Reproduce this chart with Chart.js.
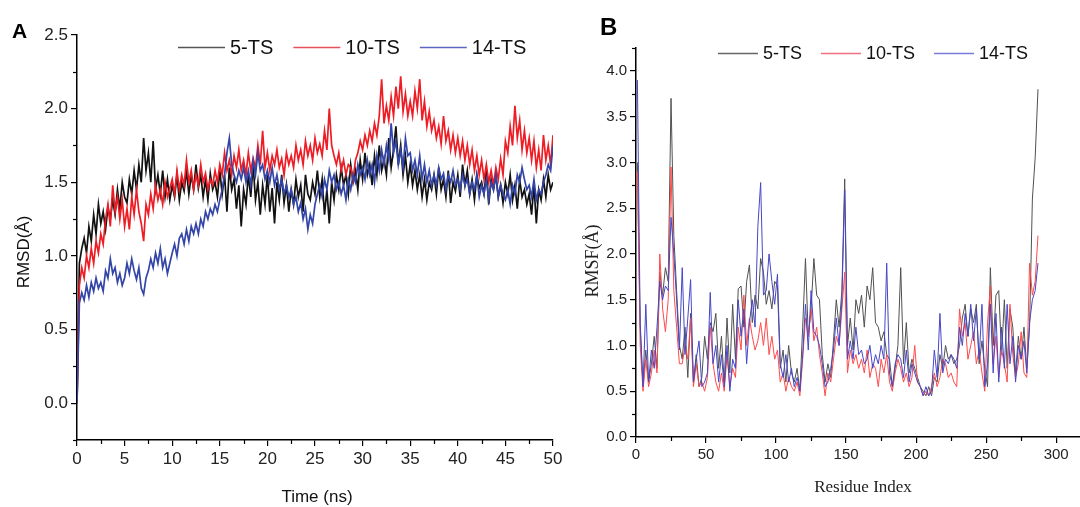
<!DOCTYPE html>
<html><head><meta charset="utf-8">
<script src="https://cdn.jsdelivr.net/npm/chart.js@4.4.0/dist/chart.umd.min.js"></script>
<style>
html,body{margin:0;padding:0;background:#fff;width:1080px;height:507px;overflow:hidden}
#a{position:absolute;left:0;top:0}
#b{position:absolute;left:560px;top:0}
</style></head><body>
<canvas id="a" width="580" height="507"></canvas>
<canvas id="b" width="520" height="507"></canvas>
<script>
// ---------- Panel A: RMSD vs time ----------
const seriesNames = ['5-TS', '10-TS', '14-TS'];
const rmsdTimeStepNs = 0.25;
const rmsd5TS = [
0.00,0.95,1.05,1.12,1.02,1.20,1.10,1.28,1.15,1.35,
1.22,1.30,1.18,1.33,1.25,1.38,1.28,1.45,1.32,1.50,
1.40,1.36,1.52,1.42,1.58,1.45,1.62,1.50,1.80,1.58,
1.70,1.50,1.78,1.45,1.55,1.42,1.58,1.40,1.52,1.38,
1.48,1.40,1.55,1.38,1.50,1.44,1.58,1.42,1.55,1.45,
1.62,1.46,1.55,1.40,1.52,1.38,1.56,1.45,1.50,1.40,
1.58,1.42,1.55,1.30,1.60,1.45,1.52,1.32,1.48,1.20,
1.45,1.35,1.55,1.40,1.62,1.38,1.50,1.28,1.48,1.35,
1.55,1.30,1.46,1.22,1.50,1.38,1.55,1.36,1.48,1.30,
1.45,1.35,1.52,1.40,1.48,1.30,1.55,1.42,1.38,1.50,
1.42,1.58,1.40,1.52,1.28,1.45,1.22,1.50,1.38,1.55,
1.45,1.60,1.48,1.55,1.42,1.62,1.50,1.58,1.45,1.65,
1.52,1.70,1.55,1.62,1.48,1.68,1.55,1.75,1.58,1.66,
1.55,1.80,1.60,1.72,1.88,1.62,1.75,1.55,1.68,1.50,
1.62,1.48,1.58,1.45,1.55,1.40,1.52,1.38,1.50,1.45,
1.55,1.42,1.60,1.45,1.52,1.40,1.58,1.36,1.50,1.44,
1.55,1.40,1.62,1.48,1.58,1.42,1.52,1.38,1.55,1.46,
1.50,1.42,1.58,1.35,1.52,1.45,1.55,1.40,1.48,1.36,
1.50,1.42,1.55,1.38,1.48,1.32,1.52,1.40,1.45,1.35,
1.42,1.28,1.48,1.22,1.45,1.38,1.52,1.40,1.55,1.45,
1.50];
const rmsd10TS = [
0.00,0.80,0.92,0.85,1.00,0.92,1.05,0.95,1.10,1.02,
1.15,1.08,1.25,1.35,1.20,1.48,1.30,1.40,1.25,1.38,
1.20,1.32,1.18,1.40,1.28,1.45,1.30,1.22,1.10,1.35,
1.28,1.42,1.32,1.48,1.38,1.45,1.35,1.50,1.40,1.46,
1.52,1.42,1.58,1.45,1.55,1.48,1.65,1.50,1.58,1.45,
1.55,1.48,1.62,1.50,1.56,1.45,1.52,1.48,1.58,1.50,
1.62,1.55,1.70,1.58,1.65,1.55,1.68,1.60,1.72,1.58,
1.65,1.55,1.70,1.58,1.66,1.60,1.75,1.62,1.85,1.60,
1.70,1.58,1.68,1.62,1.72,1.60,1.66,1.55,1.70,1.62,
1.68,1.60,1.75,1.65,1.72,1.62,1.78,1.68,1.75,1.65,
1.80,1.70,1.76,1.68,1.85,1.72,2.00,1.75,1.68,1.62,
1.70,1.58,1.65,1.55,1.62,1.60,1.52,1.65,1.70,1.78,
1.72,1.82,1.75,1.85,1.78,1.90,1.82,1.95,2.20,1.90,
2.02,1.92,2.08,1.95,2.15,2.00,2.22,1.98,2.10,1.95,
2.05,1.95,2.12,2.00,2.20,1.92,2.05,1.88,1.98,1.85,
1.92,1.80,1.88,1.76,1.95,1.78,1.85,1.72,1.82,1.70,
1.80,1.68,1.78,1.65,1.75,1.62,1.72,1.58,1.68,1.55,
1.65,1.52,1.62,1.50,1.58,1.48,1.60,1.52,1.66,1.55,
1.78,1.70,1.88,1.75,2.02,1.80,1.92,1.72,1.85,1.70,
1.80,1.65,1.78,1.60,1.72,1.58,1.82,1.65,1.75,1.62,
1.82];
const rmsd14TS = [
0.00,0.68,0.75,0.70,0.80,0.72,0.82,0.76,0.85,0.78,
0.82,0.76,0.90,0.85,0.98,0.88,0.92,0.82,0.88,0.80,
0.85,0.95,0.88,0.98,0.90,0.84,0.92,0.78,0.74,0.85,
0.90,0.98,0.92,1.02,0.95,1.05,0.92,0.98,0.88,0.95,
1.02,1.08,1.00,1.12,1.15,1.08,1.18,1.10,1.20,1.15,
1.22,1.15,1.25,1.20,1.30,1.25,1.32,1.28,1.35,1.30,
1.38,1.45,1.55,1.70,1.80,1.62,1.55,1.50,1.58,1.52,
1.60,1.50,1.58,1.48,1.65,1.55,1.70,1.58,1.62,1.52,
1.58,1.50,1.60,1.48,1.55,1.45,1.52,1.42,1.48,1.40,
1.45,1.35,1.40,1.30,1.36,1.25,1.32,1.18,1.28,1.22,
1.35,1.42,1.48,1.40,1.52,1.45,1.58,1.50,1.55,1.45,
1.50,1.42,1.48,1.38,1.52,1.45,1.55,1.50,1.62,1.55,
1.60,1.52,1.65,1.55,1.62,1.50,1.68,1.58,1.72,1.62,
1.75,1.65,1.90,1.70,1.78,1.62,1.72,1.60,1.80,1.68,
1.70,1.58,1.65,1.55,1.68,1.52,1.62,1.50,1.58,1.48,
1.55,1.48,1.60,1.52,1.56,1.45,1.55,1.50,1.58,1.48,
1.52,1.45,1.55,1.48,1.52,1.42,1.50,1.45,1.55,1.40,
1.48,1.42,1.52,1.38,1.50,1.45,1.55,1.40,1.48,1.42,
1.38,1.45,1.35,1.48,1.42,1.55,1.50,1.60,1.52,1.45,
1.48,1.40,1.52,1.38,1.45,1.42,1.50,1.55,1.62,1.58,
1.75];
const rmsdTimeTicks = [0,5,10,15,20,25,30,35,40,45,50];
const rmsdValueTicks = [0,0.5,1.0,1.5,2.0,2.5];

// ---------- Panel B: RMSF vs residue ----------
const residueFirst = 1;
const residueStep = 2;
const rmsf5TS = [
3.00,1.20,0.55,0.95,0.60, 0.80,1.10,0.75,1.80,1.55,
1.85,1.70,3.70,2.20,1.60, 1.00,0.85,1.20,0.65,1.35,
0.60,0.90,0.55,0.65,1.10, 0.85,1.25,1.15,1.35,0.75,
1.10,0.60,1.30,0.70,1.45, 0.85,1.62,1.65,1.20,1.70,
1.88,1.25,1.55,1.40,1.95, 1.80,1.45,1.60,1.40,1.70,
1.65,0.75,0.95,0.60,1.00, 0.70,0.60,0.75,0.50,1.20,
1.95,1.10,1.40,1.95,1.55, 1.50,0.90,0.60,0.80,0.65,
1.05,1.50,1.20,1.60,2.82, 1.00,1.30,0.95,1.50,1.35,
1.55,1.20,1.65,1.50,1.85, 1.25,1.20,1.05,1.15,0.90,
0.85,0.55,0.75,1.00,1.85, 0.80,1.25,0.70,0.85,0.75,
0.65,0.55,0.50,0.45,0.55, 0.45,0.65,0.60,0.90,0.75,
1.00,0.85,0.90,0.80,0.85, 1.00,1.30,1.45,1.10,1.40,
1.25,1.45,0.80,1.05,0.75, 0.55,1.85,1.00,1.55,1.60,
0.90,1.50,0.75,1.40,1.20, 0.70,1.10,0.85,1.20,0.75,
1.20,2.60,3.05,3.80];
const rmsf10TS = [
2.90,1.00,0.50,0.85,0.55, 0.70,0.95,0.70,2.00,1.40,
1.15,1.50,2.95,1.60,1.20, 0.80,0.80,1.00,0.85,1.30,
0.55,0.80,0.55,0.60,0.50, 0.65,1.20,0.80,0.60,0.50,
0.70,0.50,0.90,0.55,0.75, 0.65,1.20,0.95,1.55,1.00,
1.30,1.10,0.95,1.05,1.25, 1.00,1.30,0.90,1.10,0.85,
0.95,0.60,0.70,0.50,0.65, 0.55,0.50,0.60,0.45,0.85,
1.30,1.10,1.40,1.05,1.20, 0.90,0.70,0.45,0.70,0.60,
0.85,1.10,1.00,1.40,1.80, 0.70,0.95,0.80,0.90,0.75,
0.85,0.70,0.95,0.65,0.80, 0.75,0.55,0.85,0.70,0.90,
0.60,0.50,0.70,0.85,0.75, 0.60,0.70,0.55,0.65,1.00,
0.60,0.55,0.45,0.50,0.45, 0.55,0.70,0.55,0.65,0.85,
0.80,0.65,0.70,0.60,0.55, 1.40,1.10,1.25,0.85,1.00,
1.15,0.80,0.95,0.70,0.50, 1.25,1.65,0.80,1.10,0.65,
0.95,0.80,0.60,1.45,0.90, 0.65,0.80,1.15,0.70,0.65,
1.90,1.55,1.70,2.20];
const rmsf14TS = [
3.90,1.25,0.55,1.45,0.60, 0.95,0.75,1.20,1.70,1.50,
1.65,1.60,2.40,2.00,1.50, 0.95,1.85,0.90,1.30,1.72,
0.60,0.85,1.05,0.55,0.60, 0.70,1.58,0.80,1.00,0.60,
0.90,0.55,1.00,0.50,0.85, 0.75,1.50,1.10,1.40,0.80,
1.25,1.50,1.20,2.30,2.78, 1.55,1.60,2.00,1.70,1.45,
1.78,0.80,0.65,0.90,0.60, 0.75,0.55,0.65,0.50,0.90,
1.45,0.95,1.60,1.15,1.10, 1.00,0.80,0.55,0.60,0.75,
0.95,1.30,1.00,1.50,2.70, 0.85,1.05,0.85,1.20,0.90,
0.95,0.80,0.85,1.00,0.75, 0.90,0.80,1.00,0.85,1.90,
0.70,0.55,0.80,0.90,0.85, 0.65,0.95,0.60,0.80,0.70,
0.60,0.55,0.45,0.55,0.45, 0.50,0.95,0.65,1.35,0.70,
0.85,0.80,0.90,0.85,0.75, 1.20,1.00,1.35,1.10,1.45,
1.05,1.40,0.85,1.45,0.55, 0.80,1.45,0.70,1.35,0.60,
1.20,0.75,1.45,0.80,1.10, 0.60,1.00,0.85,1.05,0.70,
1.25,1.50,1.60,1.90];
const rmsfResidueTicks = [0,50,100,150,200,250,300];
const rmsfValueTicks = [0,0.5,1.0,1.5,2.0,2.5,3.0,3.5,4.0];

const titleA = {letter:'A', x:'Time (ns)', y:'RMSD(Å)'};
const titleB = {letter:'B', x:'Residue Index', y:'RMSF(Å)'};

// ---------- helpers ----------
const toXY = (arr, x0, dx) => arr.map((v, i) => ({x: x0 + i * dx, y: v}));

const minorTicks = {
  id: 'minorTicks',
  afterDraw(chart, args, o) {
    const ctx = chart.ctx;
    ctx.save();
    ctx.strokeStyle = '#000';
    ctx.lineWidth = o.width;
    ['x', 'y'].forEach(id => {
      const s = chart.scales[id];
      const t = s.ticks.map(k => k.value);
      const step = t[1] - t[0];
      const vals = [t[0] - step / 2, ...t.map(v => v + step / 2)]
        .filter(v => v >= s.min - 1e-9 && v <= s.max + 1e-9);
      vals.forEach(v => {
        const p = Math.round(s.getPixelForValue(v)) + 0.5;
        ctx.beginPath();
        if (id === 'x') { ctx.moveTo(p, s.top); ctx.lineTo(p, s.top + o.len); }
        else { ctx.moveTo(s.right, p); ctx.lineTo(s.right - o.len, p); }
        ctx.stroke();
      });
    });
    ctx.restore();
  }
};

const panelDecor = {
  id: 'panelDecor',
  afterDraw(chart, args, o) {
    const ctx = chart.ctx;
    ctx.save();
    ctx.fillStyle = '#000';
    ctx.font = o.letterFont;
    ctx.textAlign = 'left'; ctx.textBaseline = 'alphabetic';
    ctx.fillText(o.text.letter, o.letterX, o.letterY);
    ctx.fillStyle = o.titleColor;
    ctx.textAlign = 'center'; ctx.textBaseline = 'middle';
    ctx.font = o.xTitleFont;
    ctx.fillText(o.text.x, o.xTitleX, o.xTitleY);
    ctx.save();
    ctx.translate(o.yTitleX, o.yTitleY);
    ctx.rotate(-Math.PI / 2);
    ctx.font = o.yTitleFont;
    ctx.fillText(o.text.y, 0, 0);
    ctx.restore();
    // legend
    ctx.font = o.legendFont;
    ctx.textAlign = 'left'; ctx.textBaseline = 'middle';
    let x = o.legendX;
    chart.data.datasets.forEach((ds, i) => {
      ctx.strokeStyle = o.lineColors[i];
      ctx.lineWidth = 1.3;
      ctx.beginPath();
      ctx.moveTo(x, o.legendY + 0.5); ctx.lineTo(x + o.lineLen, o.legendY + 0.5);
      ctx.stroke();
      x += o.lineLen + o.textGap;
      ctx.fillStyle = '#111';
      ctx.fillText(ds.label, x, o.legendY + 1);
      x += ctx.measureText(ds.label).width + o.itemGap;
    });
    ctx.restore();
  }
};

const sans = "'Liberation Sans',Arial,sans-serif";
const serif = "'Liberation Serif','Times New Roman',serif";

function axis(ticksArr, min, max, fmt, font, fitProp, fitVal) {
  return {
    type: 'linear', min, max,
    afterBuildTicks: s => { s.ticks = ticksArr.map(v => ({value: v})); },
    ticks: {font, color: '#222', padding: 3, autoSkip: false, maxRotation: 0, callback: fmt},
    grid: {drawOnChartArea: false, drawTicks: true, tickLength: 6, color: '#000', lineWidth: 1.2},
    border: {color: '#000', width: 1.5},
    afterFit: s => { s[fitProp] = fitVal; }
  };
}

Chart.register(minorTicks, panelDecor);

// ---------- Chart A ----------
new Chart(document.getElementById('a'), {
  type: 'line',
  data: {
    datasets: [
      {label: seriesNames[0], data: toXY(rmsd5TS, 0, rmsdTimeStepNs), borderColor: '#111111', borderWidth: 1.7, order: 3},
      {label: seriesNames[1], data: toXY(rmsd10TS, 0, rmsdTimeStepNs), borderColor: '#ee1c24', borderWidth: 1.7, order: 2},
      {label: seriesNames[2], data: toXY(rmsd14TS, 0, rmsdTimeStepNs), borderColor: '#3445a8', borderWidth: 1.7, order: 1}
    ]
  },
  options: {
    responsive: false, animation: false, devicePixelRatio: 1,
    layout: {padding: {left: 0, top: 35, right: 27, bottom: 0}},
    elements: {point: {radius: 0}, line: {tension: 0}},
    plugins: {
      legend: {display: false}, tooltip: {enabled: false},
      minorTicks: {len: 4, width: 1.2},
      panelDecor: {
        text: titleA, letterFont: "bold 21px " + sans, letterX: 12, letterY: 38,
        titleColor: '#111', xTitleFont: "17px " + sans, xTitleX: 317, xTitleY: 497,
        yTitleFont: "17px " + sans, yTitleX: 24, yTitleY: 252,
        legendFont: "20px " + sans, legendX: 178, legendY: 47, lineLen: 47, textGap: 5, itemGap: 20,
        lineColors: ['#555555', '#e8505a', '#5a66c0']
      }
    },
    scales: {
      x: axis(rmsdTimeTicks, 0, 50, v => String(v), {family: sans, size: 17}, 'height', 67),
      y: axis(rmsdValueTicks, -0.25, 2.5, v => v.toFixed(1), {family: sans, size: 17}, 'width', 77)
    }
  }
});

// ---------- Chart B ----------
new Chart(document.getElementById('b'), {
  type: 'line',
  data: {
    datasets: [
      {label: seriesNames[0], data: toXY(rmsf5TS, residueFirst, residueStep), borderColor: '#505050', borderWidth: 1, order: 3},
      {label: seriesNames[1], data: toXY(rmsf10TS, residueFirst, residueStep), borderColor: '#ff4a4a', borderWidth: 1, order: 2},
      {label: seriesNames[2], data: toXY(rmsf14TS, residueFirst, residueStep), borderColor: '#4646c8', borderWidth: 1, order: 1}
    ]
  },
  options: {
    responsive: false, animation: false, devicePixelRatio: 1,
    layout: {padding: {left: 0, top: 48, right: 0, bottom: 0}},
    elements: {point: {radius: 0}, line: {tension: 0}},
    plugins: {
      legend: {display: false}, tooltip: {enabled: false},
      minorTicks: {len: 4, width: 1.2},
      panelDecor: {
        text: titleB, letterFont: "bold 24px " + sans, letterX: 40, letterY: 35,
        titleColor: '#222', xTitleFont: "17px " + serif, xTitleX: 303, xTitleY: 488,
        yTitleFont: "18px " + serif, yTitleX: 33, yTitleY: 261,
        legendFont: "18px " + sans, legendX: 158, legendY: 53, lineLen: 40, textGap: 5, itemGap: 19,
        lineColors: ['#666666', '#f07080', '#7a7ad8']
      }
    },
    scales: {
      x: axis(rmsfResidueTicks, 0, 317, v => String(v), {family: sans, size: 15}, 'height', 70),
      y: axis(rmsfValueTicks, 0, 4.25, v => v.toFixed(1), {family: sans, size: 15}, 'width', 76)
    }
  }
});
</script>
</body></html>
